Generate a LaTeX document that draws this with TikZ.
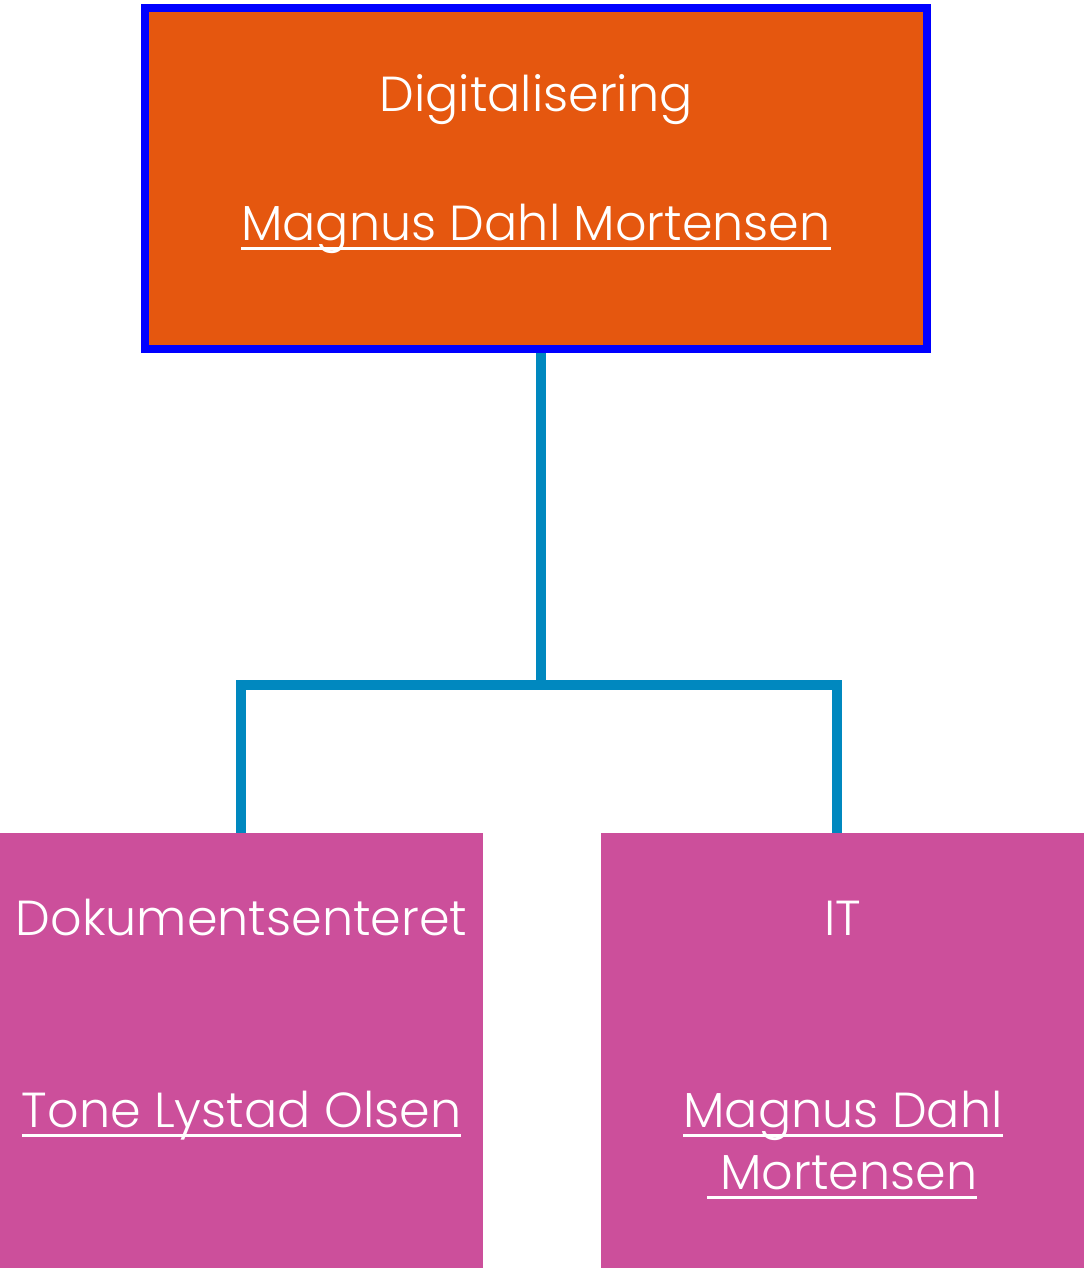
\documentclass[tikz,border=0pt]{standalone}
\usepackage{fontspec}
\setmainfont{Poppins}[UprightFont=* Light]
\usepackage{xcolor}
\definecolor{unitorange}{HTML}{E5570F}
\definecolor{unitpink}{HTML}{CC4F9B}
\definecolor{linkblue}{HTML}{0088BF}
\newcommand{\ulname}[1]{\setbox0\hbox{#1}\rlap{\rule[-0.2em]{\wd0}{0.06em}}\box0}

\begin{document}
\begin{tikzpicture}[x=0.5pt,y=-0.5pt,
  unit/.style={rectangle,inner sep=0pt,minimum width=241.5pt,minimum height=217.5pt,fill=unitpink},
  unittext/.style={text=white,font=\fontsize{24.6}{28}\selectfont,inner sep=0pt,anchor=base},
  link/.style={draw=linkblue,line width=5pt}]
\useasboundingbox (0,0) rectangle (1090,1268);
\node[rectangle,inner sep=0pt,minimum width=391pt,minimum height=170.5pt,fill=unitorange,draw=blue,line width=4pt] (top) at (536,178.5){};
\node[unit] (dok) at (241.5,1050.5){};
\node[unit] (it) at (842.5,1050.5){};
\coordinate (hub) at (541,685);
\draw[link] (top.south -| hub)--(hub);
\draw[link] ([xshift=-0.25pt]dok.north) |- (hub) -| ([xshift=-2.75pt]it.north);
\node[unittext] (topname) at (536,112){Digitalisering};
\node[unittext] (topboss) at (536,240){\ulname{Magnus Dahl Mortensen}};
\node[unittext] (dokname) at (241.5,935){Dokumentsenteret};
\node[unittext] (dokboss) at (241.5,1127){\ulname{Tone Lystad Olsen}};
\node[unittext] (itname) at (842.5,935){IT};
\node[unittext] (itboss) at (843,1127){\ulname{Magnus Dahl}};
\node[unittext] (itboss2) at (842,1189){\ulname{\ Mortensen}};
\end{tikzpicture}
\end{document}
